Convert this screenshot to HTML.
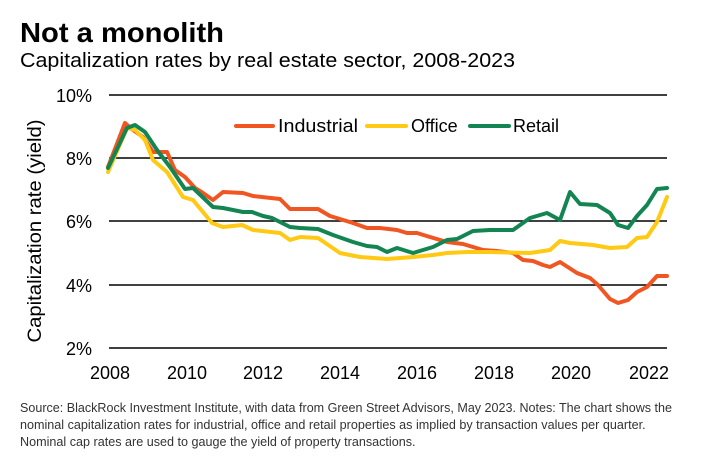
<!DOCTYPE html>
<html><head><meta charset="utf-8"><style>
body{margin:0;background:#fff;width:708px;height:456px;overflow:hidden;font-family:"Liberation Sans",sans-serif}
</style></head><body>
<svg width="708" height="456" xmlns="http://www.w3.org/2000/svg" font-family="Liberation Sans, sans-serif">
<text x="20" y="42" font-size="28" font-weight="bold" fill="#000" textLength="204" lengthAdjust="spacingAndGlyphs">Not a monolith</text>
<text x="20" y="67" font-size="20" fill="#000" textLength="495" lengthAdjust="spacingAndGlyphs">Capitalization rates by real estate sector, 2008-2023</text>
<g stroke="#000" stroke-width="1.5">
<line x1="109" y1="95" x2="667" y2="95"/>
<line x1="109" y1="158" x2="667" y2="158"/>
<line x1="109" y1="221" x2="667" y2="221"/>
<line x1="109" y1="285" x2="667" y2="285"/>
<line x1="109" y1="348" x2="667" y2="348"/>
</g>
<g font-size="18" fill="#000" text-anchor="end">
<text x="92" y="102">10%</text><text x="92" y="165">8%</text><text x="92" y="228">6%</text><text x="92" y="292">4%</text><text x="92" y="355">2%</text>
</g>
<g font-size="18" fill="#000" text-anchor="middle">
<text x="110" y="379">2008</text><text x="187" y="379">2010</text><text x="263" y="379">2012</text><text x="340" y="379">2014</text><text x="417" y="379">2016</text><text x="494" y="379">2018</text><text x="571" y="379">2020</text><text x="649" y="379">2022</text>
</g>
<text transform="translate(41,231) rotate(-90)" font-size="19" text-anchor="middle" fill="#000" textLength="223" lengthAdjust="spacingAndGlyphs">Capitalization rate (yield)</text>
<g fill="none" stroke-width="4" stroke-linejoin="round" stroke-linecap="round">
<polyline stroke="#f05522" points="108,167 125,123 133,130 143,137 153,152 167,152 175,170 185,177 195,188 203,193 213,200 223,192 243,193 253,196 280,199 290,209 318,209 330,216 353,223 367,228 380,228 397,230 407,233 417,233 430,237 447,242 463,244 483,250 497,251 513,253 523,260 533,261 543,265 550,267 560,262 577,273 590,278 598,285 610,299 618,303 628,300 637,292 647,287 657,276 667,276"/>
<polyline stroke="#ffc914" points="108,172 127,128 135,130 145,140 153,160 167,172 183,197 193,200 212,223 223,227 242,225 253,230 280,233 290,240 300,237 318,238 340,253 360,257 387,259 413,257 433,255 447,253 467,252 490,252 530,253 550,250 560,241 570,243 593,245 610,248 627,247 637,238 647,237 657,222 667,197"/>
<polyline stroke="#128552" points="108,168 127,128 135,125 145,132 157,150 170,167 185,189 193,188 213,207 223,208 243,212 252,212 263,216 272,218 290,227 300,228 318,229 333,235 353,242 367,246 377,247 387,252 397,248 413,253 433,247 447,240 457,239 473,231 490,230 513,230 530,218 547,213 560,220 570,192 580,204 597,205 610,213 618,225 628,228 637,216 647,205 657,189 667,188"/>
<line stroke="#f05522" x1="236" y1="126" x2="273" y2="126"/>
<line stroke="#ffc914" x1="367" y1="126" x2="406" y2="126"/>
<line stroke="#128552" x1="470" y1="126" x2="509" y2="126"/>
</g>
<g font-size="18" fill="#000">
<text x="278" y="132" textLength="80" lengthAdjust="spacingAndGlyphs">Industrial</text><text x="411" y="132">Office</text><text x="513" y="132">Retail</text>
</g>
<g font-size="12.6" fill="#333">
<text x="20" y="412" textLength="652" lengthAdjust="spacingAndGlyphs">Source: BlackRock Investment Institute, with data from Green Street Advisors, May 2023. Notes: The chart shows the</text>
<text x="20" y="429">nominal capitalization rates for industrial, office and retail properties as implied by transaction values per quarter.</text>
<text x="20" y="446">Nominal cap rates are used to gauge the yield of property transactions.</text>
</g>
</svg>
</body></html>
